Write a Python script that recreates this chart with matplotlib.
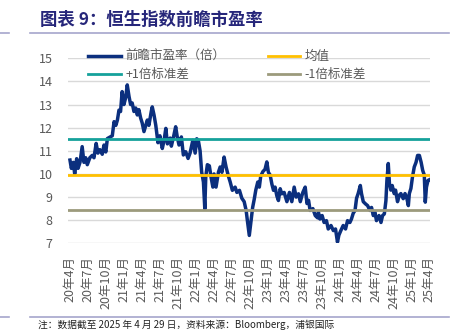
import matplotlib
matplotlib.use("Agg")
import matplotlib.pyplot as plt
from matplotlib.lines import Line2D
import pandas as pd

plt.rcParams['font.family'] = ['Noto Sans CJK SC', 'DejaVu Sans']

# ---- data ----
dates = [
    "2020-04-29", "2020-05-06", "2020-05-16", "2020-05-23", "2020-06-02", "2020-06-09", "2020-06-19",
    "2020-06-30", "2020-07-09", "2020-07-18", "2020-07-26", "2020-08-08", "2020-08-20", "2020-08-29",
    "2020-09-09", "2020-09-18", "2020-09-28", "2020-10-10", "2020-10-19", "2020-10-28", "2020-11-05",
    "2020-11-19", "2020-11-30", "2020-12-09", "2020-12-18", "2020-12-26",
    "2021-01-03", "2021-01-11", "2021-01-19", "2021-01-28", "2021-02-06", "2021-02-14", "2021-02-23",
    "2021-03-03", "2021-03-11", "2021-03-20", "2021-03-29", "2021-04-06", "2021-04-14", "2021-04-23",
    "2021-05-01", "2021-05-10", "2021-05-19", "2021-05-27", "2021-06-04", "2021-06-16", "2021-06-21",
    "2021-06-30", "2021-07-09", "2021-07-20", "2021-07-30", "2021-08-11", "2021-08-20", "2021-08-29",
    "2021-09-06", "2021-09-20", "2021-09-26", "2021-10-09", "2021-10-18", "2021-10-26", "2021-11-04",
    "2021-11-16", "2021-11-26", "2021-12-08", "2021-12-20", "2021-12-30",
    "2022-01-13", "2022-01-25", "2022-02-02", "2022-02-10", "2022-02-19", "2022-02-27", "2022-03-08",
    "2022-03-15", "2022-03-20", "2022-03-28", "2022-04-07", "2022-04-16", "2022-04-25", "2022-05-01",
    "2022-05-11", "2022-05-23", "2022-06-01", "2022-06-10", "2022-06-21", "2022-07-01", "2022-07-13",
    "2022-07-22", "2022-08-02", "2022-08-16", "2022-08-25", "2022-09-07", "2022-09-19", "2022-10-01",
    "2022-10-11", "2022-10-17", "2022-10-27", "2022-11-05", "2022-11-13", "2022-11-21", "2022-11-29",
    "2022-12-09", "2022-12-17", "2022-12-24",
    "2023-01-04", "2023-01-15", "2023-01-24", "2023-02-01", "2023-02-10", "2023-02-19", "2023-02-27",
    "2023-03-07", "2023-03-16", "2023-03-24", "2023-04-02", "2023-04-10", "2023-04-22", "2023-05-06",
    "2023-05-19", "2023-05-31", "2023-06-12", "2023-06-22", "2023-07-04", "2023-07-13", "2023-07-26",
    "2023-08-07", "2023-08-16", "2023-08-24", "2023-09-01", "2023-09-15", "2023-09-27", "2023-10-09",
    "2023-10-13", "2023-10-21", "2023-11-01", "2023-11-11", "2023-11-23", "2023-12-02", "2023-12-16",
    "2023-12-28",
    "2024-01-08", "2024-01-18", "2024-01-25", "2024-02-04", "2024-02-16", "2024-02-28", "2024-03-09",
    "2024-03-21", "2024-03-29", "2024-04-07", "2024-04-16", "2024-04-24", "2024-05-02", "2024-05-13",
    "2024-05-19", "2024-05-28", "2024-06-09", "2024-06-19", "2024-07-01", "2024-07-09", "2024-07-18",
    "2024-07-26", "2024-08-03", "2024-08-16", "2024-08-26", "2024-09-03", "2024-09-12", "2024-09-20",
    "2024-09-25", "2024-10-02", "2024-10-08", "2024-10-15", "2024-10-22", "2024-11-01", "2024-11-08",
    "2024-11-18", "2024-11-27", "2024-12-05", "2024-12-17", "2024-12-26",
    "2025-01-03", "2025-01-12", "2025-01-17", "2025-01-25", "2025-02-02", "2025-02-11", "2025-02-20",
    "2025-02-28", "2025-03-09", "2025-03-18", "2025-03-26", "2025-04-03", "2025-04-08", "2025-04-14",
    "2025-04-22", "2025-04-29",
]
pe = [
    10.60, 10.24, 10.50, 10.00, 10.66, 10.24, 10.50,
    11.18, 10.50, 10.70, 10.40, 10.70, 10.80, 10.70,
    11.32, 10.90, 11.05, 10.85, 11.25, 10.95, 11.53,
    11.60, 11.65, 12.26, 12.10, 12.33,
    12.76, 12.70, 13.56, 13.00, 13.30, 13.85, 13.35,
    13.00, 13.07, 12.70, 12.85, 12.55, 12.78, 12.42,
    12.20, 11.83, 12.10, 12.33, 12.10, 12.70, 12.90,
    12.55, 12.10, 11.35, 11.65, 11.10, 11.45, 11.97,
    11.30, 11.55, 11.20, 11.68, 12.04, 11.60, 11.25,
    11.60, 10.82, 10.96, 10.67, 10.90,
    11.45, 10.90, 11.52, 11.45, 11.00, 10.08, 9.65,
    8.49, 9.90, 10.40, 10.35, 9.85, 9.43, 10.00,
    9.43, 10.07, 10.30, 10.07, 10.73, 10.30, 9.90,
    9.65, 9.29, 9.43, 9.20, 9.29, 8.95, 8.80,
    8.42, 8.00, 7.34, 8.00, 8.55, 8.90, 9.30,
    9.65, 9.43, 9.90,
    10.10, 10.20, 10.52, 10.07, 9.95, 9.55, 9.29,
    9.43, 9.05, 8.85, 9.36, 9.14, 9.20, 8.80,
    9.20, 8.80, 9.43, 9.00, 9.14, 8.80, 9.20,
    9.43, 8.72, 8.86, 8.42, 8.50, 8.20, 8.10,
    8.35, 8.05, 8.20, 7.90, 7.98, 7.62, 7.77,
    7.55,
    7.62, 7.05, 7.35, 7.55, 7.77, 7.62, 7.98,
    7.90, 8.05, 8.30, 8.42, 8.95, 9.15, 9.50,
    9.15, 8.80, 8.70, 8.63, 8.42, 8.55, 8.20,
    8.35, 7.98, 8.20, 7.90, 8.20, 8.27, 8.84,
    9.70, 10.45, 9.58, 9.30, 9.50, 9.15, 9.30,
    8.80, 9.08, 9.15, 8.93, 9.15,
    9.00, 8.63, 9.15, 9.37, 9.87, 10.30, 10.50,
    10.80, 10.80, 10.50, 10.15, 9.95, 8.78, 9.43,
    9.72, 9.75,
]
mean_pe = 9.95
plus_1sd = 11.50
minus_1sd = 8.42

tick_dates = ["2020-04-29", "2020-07-29", "2020-10-29", "2021-01-29", "2021-04-29", "2021-07-29",
              "2021-10-29", "2022-01-29", "2022-04-29", "2022-07-29", "2022-10-29", "2023-01-29",
              "2023-04-29", "2023-07-29", "2023-10-29", "2024-01-29", "2024-04-29", "2024-07-29",
              "2024-10-29", "2025-01-29", "2025-04-29"]
tick_labels = ["20年4月", "20年7月", "20年10月", "21年1月", "21年4月", "21年7月", "21年10月",
               "22年1月", "22年4月", "22年7月", "22年10月", "23年1月", "23年4月", "23年7月",
               "23年10月", "24年1月", "24年4月", "24年7月", "24年10月", "25年1月", "25年4月"]

W, H = 458, 330
gray = '#595959'

fig = plt.figure(figsize=(W / 100, H / 100), dpi=100)
ax = fig.add_axes([68 / W, 1 - 243.3 / H, (430 - 68) / W, (243.3 - 58.3) / H])

x = pd.to_datetime(dates)
ax.plot(x, pe, color='#0B2F7E', lw=2.5, label='前瞻市盈率（倍）', zorder=3,
        solid_joinstyle='round')
ax.axhline(plus_1sd, color='#15A19B', lw=2.0, label='+1倍标准差', zorder=4)
ax.axhline(mean_pe, color='#FFC000', lw=2.0, label='均值', zorder=4)
ax.axhline(minus_1sd, color='#9C9A7C', lw=2.0, label='-1倍标准差', zorder=4)

ax.set_ylim(7, 15)
ax.set_yticks(range(7, 16))
ax.set_xlim(pd.Timestamp('2020-04-19'), pd.Timestamp('2025-05-02'))
ax.set_xticks(pd.to_datetime(tick_dates))
ax.set_xticklabels(tick_labels, rotation=90, va='top', ha='center')
ax.grid(axis='y', color='#D9D9D9', lw=1.0)
ax.set_axisbelow(True)
for s in ax.spines.values():
    s.set_visible(False)
ax.tick_params(length=0, labelsize=9, labelcolor=gray)
ax.tick_params(axis='y', pad=11)
ax.tick_params(axis='x', pad=9)

leg = ax.legend(ncol=2, frameon=False, loc='upper left', bbox_to_anchor=(82 / W, 1 - 44 / H),
                bbox_transform=fig.transFigure, fontsize=9, handlelength=2.6,
                handletextpad=0.35, columnspacing=3.4, labelspacing=0.4, borderpad=0)
for t in leg.get_texts():
    t.set_color(gray)

# title, rules and note
fig.text(40 / W, 1 - 20 / H, '图表 9：恒生指数前瞻市盈率', fontsize=12.5, fontweight='bold',
         color='#26267A', va='center', ha='left')
rule = '#A6A6CC'
for y in (33, 317):
    fig.add_artist(Line2D([0, 9 / W], [1 - y / H] * 2, color=rule, lw=1.2, transform=fig.transFigure))
    fig.add_artist(Line2D([30 / W, 449 / W], [1 - y / H] * 2, color=rule, lw=1.2, transform=fig.transFigure))
fig.text(38 / W, 1 - 319.5 / H, '注：数据截至 2025 年 4 月 29 日，资料来源：Bloomberg，浦银国际',
         fontsize=7, color='#222222', va='top', ha='left')

fig.savefig('out.png', dpi=100)
